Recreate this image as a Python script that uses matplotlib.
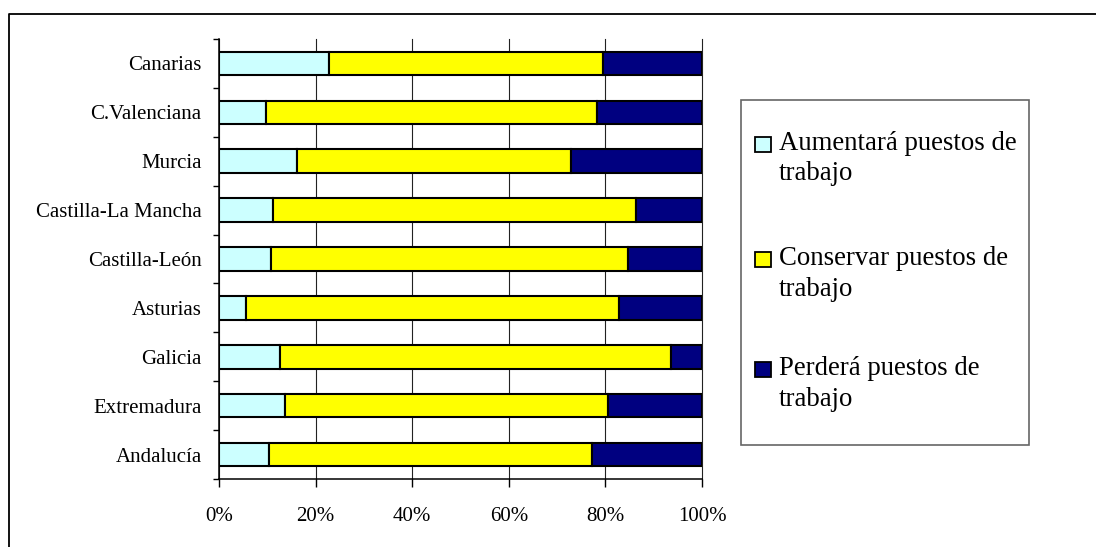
import numpy as np
import matplotlib.pyplot as plt
from matplotlib.lines import Line2D
from matplotlib.patches import Rectangle
from matplotlib.ticker import FixedLocator, PercentFormatter

plt.rcParams['font.family'] = ['Liberation Serif', 'DejaVu Serif']

# data, top to bottom as in the chart
regiones = ['Canarias', 'C.Valenciana', 'Murcia', 'Castilla-La Mancha',
            'Castilla-León', 'Asturias', 'Galicia', 'Extremadura', 'Andalucía']
aumentara = [22.8, 9.7, 16.1, 11.2, 10.8, 5.6, 12.6, 13.7, 10.4]
conservar = [56.6, 68.6, 56.7, 75.1, 73.9, 77.3, 81.0, 66.8, 66.8]
perdera = [20.6, 21.7, 27.2, 13.7, 15.3, 17.1, 6.4, 19.5, 22.8]

series = ['Aumentará puestos de\ntrabajo', 'Conservar puestos de\ntrabajo',
          'Perderá puestos de\ntrabajo']
colores = ['#CCFFFF', '#FFFF00', '#000080']
x_ticks = [0, 20, 40, 60, 80, 100]

W, H = 1096, 547
fig = plt.figure(figsize=(W / 100, H / 100), dpi=100)
ax = fig.add_axes([219 / W, 1 - 479 / H, 483 / W, 440 / H])

n = len(regiones)
y = np.arange(n)[::-1]
valores = [np.array(aumentara), np.array(conservar), np.array(perdera)]
totales = sum(valores)
left = np.zeros(n)
for vals, col in zip(valores, colores):
    frac = vals / totales
    ax.barh(y, frac, left=left, height=0.48, color=col, edgecolor='black',
            linewidth=1.5, zorder=3)
    left += frac

ax.set_xlim(0, 1)
ax.set_ylim(-0.5, n - 0.5)

ax.set_xticks([t / 100 for t in x_ticks])
ax.xaxis.set_major_formatter(PercentFormatter(1.0, decimals=0))
ax.tick_params(axis='x', direction='out', length=6, width=1, pad=14,
               labelsize=15)
ax.grid(axis='x', color='#222222', linewidth=0.8, zorder=0)
for gl in ax.get_xgridlines():
    gl.set_clip_on(False)

ax.set_yticks(y)
ax.set_yticklabels(regiones)
ax.yaxis.set_minor_locator(FixedLocator(np.arange(-0.5, n, 1.0)))
ax.tick_params(axis='y', which='major', length=0, pad=12.5, labelsize=15)
ax.tick_params(axis='y', which='minor', direction='out', length=4.5, width=1)

for s in ['top', 'right']:
    ax.spines[s].set_visible(False)
for s in ['left', 'bottom']:
    ax.spines[s].set_linewidth(1.1)

# legend drawn by hand so the swatch sits on the first line, as in Excel
fig.add_artist(Rectangle((741 / W, 1 - 445 / H), 288 / W, 345 / H,
                         transform=fig.transFigure, facecolor='white',
                         edgecolor='#666666', linewidth=1.2))
baselines = [152, 267, 377]
for lab, col, b in zip(series, colores, baselines):
    fig.add_artist(Rectangle((755 / W, 1 - b / H), 16 / W, 15 / H,
                             transform=fig.transFigure, facecolor=col,
                             edgecolor='black', linewidth=1.3))
    fig.text(779 / W, 1 - (b + 28.5) / H, lab, fontsize=19.3, va='baseline',
             ha='left', linespacing=1.29)

# outer chart border (cut off at right and bottom)
fig.add_artist(Line2D([9 / W, 9 / W, 1.01], [-0.01, 1 - 14 / H, 1 - 14 / H],
                      transform=fig.transFigure, color='black', linewidth=1.3))

fig.savefig('out.png', dpi=100)
